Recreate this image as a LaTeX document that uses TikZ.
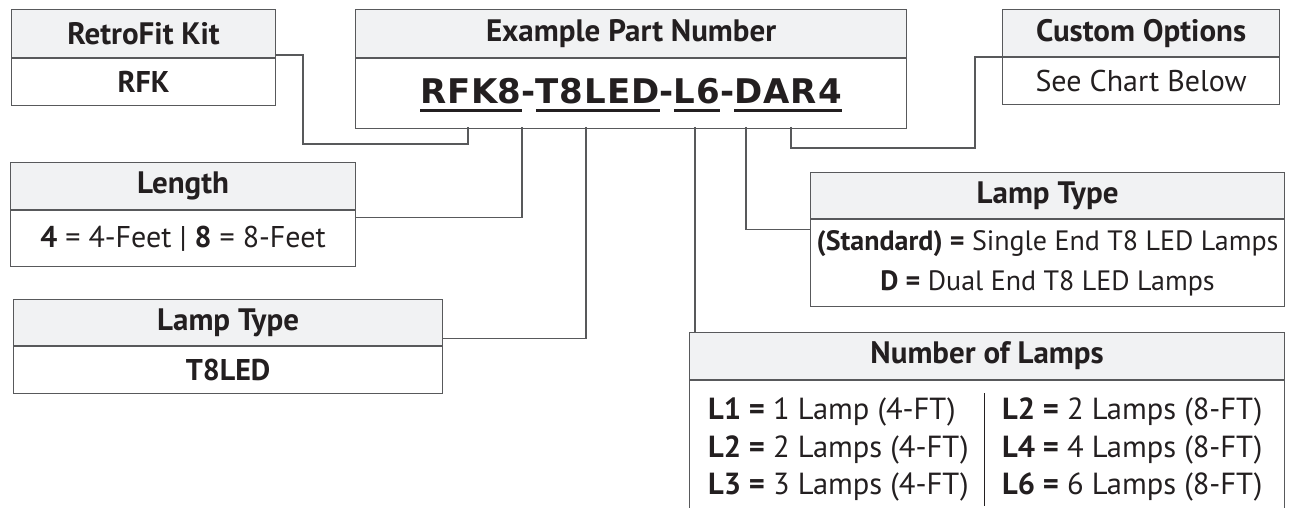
\documentclass[tikz,border=0pt]{standalone}
\usepackage{fontspec}
\setmainfont{PT Sans}
\newfontfamily\pnfont[LetterSpace=3.0]{DejaVu Sans}
\usepackage{tikz}
\usetikzlibrary{positioning}

\definecolor{boxgray}{HTML}{58595B}
\definecolor{headfill}{HTML}{F1F2F3}
\definecolor{inkblack}{HTML}{231F20}

\newcommand{\headsize}{\fontsize{31}{34}\selectfont}
\newcommand{\bodysize}{\fontsize{30}{40}\selectfont}
\newcommand{\pnpart}[1]{\setbox0\hbox{#1}\rlap{\rule[-9pt]{\wd0}{3.4pt}}\box0}

\tikzset{
    boxhead/.style = {draw = boxgray, fill = headfill, line width = 1.2pt, anchor = north west,
        inner sep = 0pt, text = inkblack, font = {\headsize\bfseries}},
    boxbody/.style = {draw = boxgray, line width = 1.2pt, inner sep = 0pt, text = inkblack,
        font = {\bodysize}, align = center},
    link/.style = {draw = boxgray, line width = 1.4pt}
}

\begin{document}
\begin{tikzpicture}[x = 1pt, y = -1pt]
        \useasboundingbox (0, 0) rectangle (1292, 508);

        \node[boxhead, minimum width = 264pt, minimum height = 48pt] (kithead) at (11, 9) {RetroFit Kit};
        \node[boxbody, minimum width = 264pt, minimum height = 47pt, below = 0pt of kithead, font = {\bodysize\bfseries}] (kitbody) {RFK};

        \node[boxhead, minimum width = 551pt, minimum height = 48pt] (pnhead) at (355, 9) {Example Part Number};
        \node[boxbody, minimum width = 551pt, minimum height = 70pt, below = 0pt of pnhead] (pnbody) {};
        \node[anchor = base, inner sep = 0pt, text = inkblack, font = {\pnfont\bfseries\fontsize{34}{36}\selectfont}] (pncode) at (631, 103)
            {\pnpart{RFK}\pnpart{8}-\pnpart{T8LED}-\pnpart{L6}-\pnpart{DAR4}};

        \node[boxhead, minimum width = 277pt, minimum height = 47pt] (custhead) at (1002, 9) {Custom Options};
        \node[boxbody, minimum width = 277pt, minimum height = 47pt, below = 0pt of custhead] (custbody) {See Chart Below};

        \node[boxhead, minimum width = 345pt, minimum height = 47pt] (lenhead) at (10, 162) {Length};
        \node[boxbody, minimum width = 345pt, minimum height = 56pt, below = 0pt of lenhead] (lenbody)
            {\textbf{4} = 4-Feet | \textbf{8} = 8-Feet};

        \node[boxhead, minimum width = 429pt, minimum height = 46pt] (t8head) at (13, 299) {Lamp Type};
        \node[boxbody, minimum width = 429pt, minimum height = 47pt, below = 0pt of t8head, font = {\bodysize\bfseries}] (t8body) {T8LED};

        \node[boxhead, minimum width = 474pt, minimum height = 46pt] (typehead) at (810, 172) {Lamp Type};
        \node[boxbody, minimum width = 474pt, minimum height = 87pt, below = 0pt of typehead, font = {\fontsize{28}{40}\selectfont}] (typebody)
            {\textbf{(Standard) =} Single End T8 LED Lamps\\ \textbf{D =} Dual End T8 LED Lamps};

        \node[boxhead, minimum width = 595pt, minimum height = 47pt] (numhead) at (689, 332) {Number of Lamps};
        \node[boxbody, minimum width = 595pt, minimum height = 140pt, below = 0pt of numhead] (numbody) {};
        \node[anchor = west, inner sep = 0pt, text = inkblack, font = {\fontsize{30.5}{37.5}\selectfont}] (numrows) at (708, 449.5) {%
            \setlength{\arrayrulewidth}{1pt}%
            \begin{tabular}{@{}l@{\hspace{16pt}}|@{\hspace{17pt}}l@{}}
                \textbf{L1 =} 1 Lamp (4-FT) & \textbf{L2 =} 2 Lamps (8-FT)\\
                \textbf{L2 =} 2 Lamps (4-FT) & \textbf{L4 =} 4 Lamps (8-FT)\\
                \textbf{L3 =} 3 Lamps (4-FT) & \textbf{L6 =} 6 Lamps (8-FT)
            \end{tabular}};

        \coordinate (sRFK) at (468, 127);
        \coordinate (sLen) at (522, 127);
        \coordinate (sT8) at (586, 127);
        \coordinate (sL6) at (695, 127);
        \coordinate (sD) at (746, 127);
        \coordinate (sDAR) at (791, 127);

        \draw[link] ([yshift = 3pt]kithead.south east) -| (303, 144) -| (sRFK);
        \draw[link] (sLen) |- ([yshift = -7pt]lenhead.south east);
        \draw[link] (sT8) |- ([yshift = 8pt]t8head.south east);
        \draw[link] (sL6) -- (sL6 |- numhead.north);
        \draw[link] (sD) |- ([yshift = -10pt]typehead.south west);
        \draw[link] (sDAR) |- (975, 148) |- (custhead.south west);
    \end{tikzpicture}
\end{document}
